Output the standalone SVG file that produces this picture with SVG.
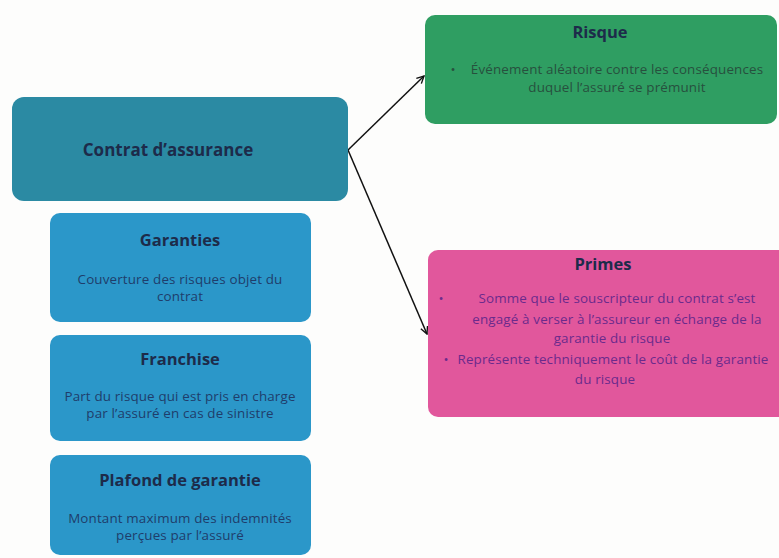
<svg xmlns="http://www.w3.org/2000/svg" width="779" height="558" viewBox="0 0 779 558">
<defs>
<marker id="ah" viewBox="0 0 10 10" refX="9" refY="5" markerWidth="9" markerHeight="9" orient="auto-start-reverse" markerUnits="userSpaceOnUse">
<path d="M1,1 L9,5 L1,9" fill="none" stroke="#111" stroke-width="1.5"/>
</marker>
<style>
text{font-family:"Open Sans","Liberation Sans",sans-serif;text-anchor:middle}
.t{font-weight:bold;font-size:16.5px;fill:#1d2b4a}
.b,.g,.p{font-size:13.4px;letter-spacing:0.15px}
.b{fill:#1f3d6b}
.g{fill:#27503e}
.p{fill:#6b2a8c}
.blue{fill:#2b97c9}
</style>
</defs>
<rect width="779" height="558" fill="#fdfdfc"/>
<g id="connectors" stroke="#111" stroke-width="1.5" fill="none">
<line x1="348" y1="150" x2="424" y2="76" marker-end="url(#ah)"/>
<line x1="348" y1="150" x2="427" y2="334" marker-end="url(#ah)"/>
</g>
<g id="contrat">
<rect x="12" y="97" width="336" height="104" rx="12" fill="#2b8aa3"/>
<text class="t" x="168" y="156" style="font-size:17px">Contrat d’assurance</text>
</g>
<g id="risque">
<rect x="425" y="15" width="352" height="109" rx="10" fill="#2f9e62"/>
<text class="t" x="600" y="38">Risque</text>
<text class="g" x="453" y="74">•</text>
<text class="g" x="617" y="74">Événement aléatoire contre les conséquences</text>
<text class="g" x="617" y="92">duquel l’assuré se prémunit</text>
</g>
<g id="primes">
<rect x="428" y="250" width="360" height="167" rx="10" fill="#e1579c"/>
<text class="t" x="603" y="270">Primes</text>
<text class="p" x="441" y="303">•</text>
<text class="p" x="617" y="303">Somme que le souscripteur du contrat s’est</text>
<text class="p" x="617" y="324">engagé à verser à l’assureur en échange de la</text>
<text class="p" x="612" y="343">garantie du risque</text>
<text class="p" x="446" y="364">•</text>
<text class="p" x="613" y="364">Représente techniquement le coût de la garantie</text>
<text class="p" x="605" y="384">du risque</text>
</g>
<g id="garanties">
<rect class="blue" x="50" y="213" width="261" height="109" rx="10"/>
<text class="t" x="180" y="246">Garanties</text>
<text class="b" x="180" y="284">Couverture des risques objet du</text>
<text class="b" x="180" y="301">contrat</text>
</g>
<g id="franchise">
<rect class="blue" x="50" y="335" width="261" height="106" rx="10"/>
<text class="t" x="180" y="365">Franchise</text>
<text class="b" x="180" y="401">Part du risque qui est pris en charge</text>
<text class="b" x="180" y="418">par l’assuré en cas de sinistre</text>
</g>
<g id="plafond">
<rect class="blue" x="50" y="455" width="261" height="100" rx="10"/>
<text class="t" x="180" y="486">Plafond de garantie</text>
<text class="b" x="180" y="523">Montant maximum des indemnités</text>
<text class="b" x="180" y="540">perçues par l’assuré</text>
</g>
</svg>
